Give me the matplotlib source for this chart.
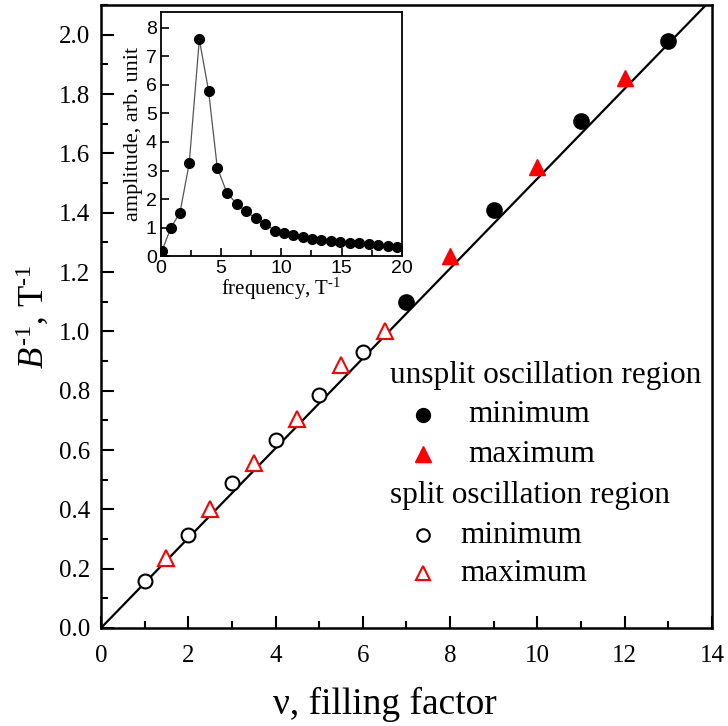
import matplotlib
matplotlib.use("Agg")
import matplotlib.pyplot as plt
from matplotlib.ticker import MultipleLocator, FormatStrFormatter

plt.rcParams['font.family'] = ['Liberation Serif', 'DejaVu Serif']
plt.rcParams['mathtext.fontset'] = 'custom'
plt.rcParams['mathtext.rm'] = 'Liberation Serif'
plt.rcParams['mathtext.it'] = 'Liberation Serif:italic'

# main panel data: B^-1 vs filling factor
nu_split_min = [1, 2, 3, 4, 5, 6]
b_split_min = [0.16, 0.315, 0.49, 0.635, 0.785, 0.93]
nu_split_max = [1.5, 2.5, 3.5, 4.5, 5.5, 6.5]
b_split_max = [0.235, 0.40, 0.555, 0.705, 0.885, 1.0]
nu_unsplit_min = [7, 9, 11, 13]
b_unsplit_min = [1.10, 1.41, 1.71, 1.98]
nu_unsplit_max = [8, 10, 12]
b_unsplit_max = [1.255, 1.555, 1.855]
# linear fit
nu_fit = [0, 13.86]
b_fit = [0, 2.1]

# inset: fourier spectrum
freq = [0.1, 0.83, 1.58, 2.35, 3.19, 3.96, 4.68, 5.48, 6.29, 7.06, 7.87, 8.67, 9.45,
        10.22, 11.0, 11.77, 12.58, 13.32, 14.1, 14.88, 15.68, 16.45, 17.26, 18.03, 18.84, 19.6]
amp = [0.2, 1.0, 1.52, 3.25, 7.59, 5.78, 3.1, 2.22, 1.84, 1.57, 1.33, 1.13, 0.90,
       0.80, 0.76, 0.69, 0.62, 0.56, 0.53, 0.50, 0.48, 0.45, 0.42, 0.38, 0.35, 0.33]

fig = plt.figure(figsize=(7.28, 7.26), dpi=100)
ax = fig.add_axes([0.1387, 0.135, 0.8393, 0.858])

ax.plot(nu_fit, b_fit, color='black', lw=1.6, zorder=1)
ax.plot(nu_split_min, b_split_min, 'o', ms=10, mfc='white', mec='black', mew=1.5, zorder=3)
ax.plot(nu_split_max, b_split_max, '^', ms=11, mfc='white', mec='red', mew=1.5, zorder=3)
ax.plot(nu_unsplit_min, b_unsplit_min, 'o', ms=11, color='black', zorder=3)
ax.plot(nu_unsplit_max, b_unsplit_max, '^', ms=12, color='red', zorder=3)

ax.set_xlim(0, 14)
ax.set_ylim(0, 2.1)
ax.xaxis.set_major_locator(MultipleLocator(2))
ax.xaxis.set_minor_locator(MultipleLocator(1))
ax.yaxis.set_major_locator(MultipleLocator(0.2))
ax.yaxis.set_minor_locator(MultipleLocator(0.1))
ax.yaxis.set_major_formatter(FormatStrFormatter('%.1f'))
ax.tick_params(which='both', direction='in', top=False, right=False, width=1.5, labelsize=18)
ax.tick_params(axis='x', which='major', length=9, pad=12)
ax.tick_params(axis='y', which='major', length=9, pad=8)
ax.tick_params(which='minor', length=5)
for s in ax.spines.values():
    s.set_linewidth(1.8)
ax.set_xlabel('ν, filling factor', fontsize=27)
ax.xaxis.set_label_coords(0.465, -0.095)
ax.set_ylabel(r'$B^{\text{-1}}$, T$^{\text{-1}}$', fontsize=25)
ax.yaxis.set_label_coords(-0.08, 0.5)

# legend drawn by hand
tr = ax.transAxes
fs = 22.5
ax.text(0.473, 0.406, 'unsplit oscillation region', transform=tr, fontsize=fs, va='center')
ax.plot([0.527], [0.342], 'o', ms=10, color='black', transform=tr, clip_on=False)
ax.text(0.601, 0.342, 'minimum', transform=tr, fontsize=fs, va='center')
ax.plot([0.527], [0.279], '^', ms=11, color='red', transform=tr, clip_on=False)
ax.text(0.601, 0.279, 'maximum', transform=tr, fontsize=fs, va='center')
ax.text(0.473, 0.213, 'split oscillation region', transform=tr, fontsize=fs, va='center')
ax.plot([0.527], [0.149], 'o', ms=9, mfc='white', mec='black', mew=1.5, transform=tr, clip_on=False)
ax.text(0.588, 0.149, 'minimum', transform=tr, fontsize=fs, va='center')
ax.plot([0.527], [0.088], '^', ms=10, mfc='white', mec='red', mew=1.5, transform=tr, clip_on=False)
ax.text(0.588, 0.088, 'maximum', transform=tr, fontsize=fs, va='center')

# inset
axi = fig.add_axes([0.221, 0.647, 0.331, 0.3365])
axi.plot(freq, amp, '-', color='#555555', lw=0.9)
axi.plot(freq, amp, 'o', color='black', ms=7)
axi.set_xlim(0, 20)
axi.set_ylim(0, 8.55)
axi.xaxis.set_major_locator(MultipleLocator(5))
axi.xaxis.set_minor_locator(MultipleLocator(2.5))
axi.yaxis.set_major_locator(MultipleLocator(1))
axi.tick_params(which='both', direction='in', top=False, right=False, width=1.2, labelsize=14)
axi.tick_params(which='major', length=6, pad=3)
axi.tick_params(which='minor', length=4)
for lab in axi.get_xticklabels() + axi.get_yticklabels():
    lab.set_fontfamily('Liberation Sans')
for s in axi.spines.values():
    s.set_linewidth(1.3)
axi.set_xlabel(r'frequency, T$^{\text{-1}}$', fontsize=15, labelpad=-1)
axi.set_ylabel('amplitude, arb. unit', fontsize=16, labelpad=2)

fig.savefig('out.png', dpi=100)
